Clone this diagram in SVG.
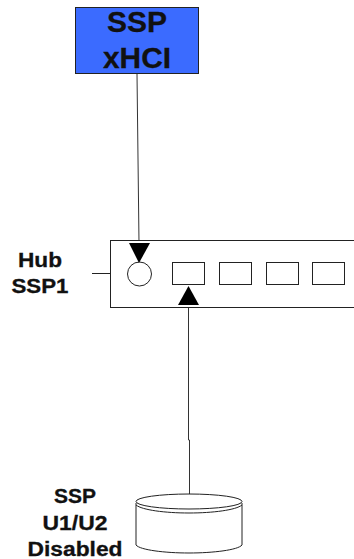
<svg xmlns="http://www.w3.org/2000/svg" width="354" height="559" viewBox="0 0 354 559">
<style>
.l{fill:none;stroke:#222;stroke-width:1}
.b{fill:#fff;stroke:#222;stroke-width:1}
.t{font-family:"Liberation Sans",Arial,sans-serif;font-weight:bold;fill:#111;stroke:#111;stroke-width:.3;text-anchor:middle}
.s{font-size:20px}
.x{font-size:29px}
.c{fill:none;stroke:#333;stroke-width:1}
</style>
<rect width="354" height="559" fill="#fff"/>
<g id="connectors">
<path class="c" d="M137 74L139 243"/>
<path class="c" d="M188.500 303V440H189.500V494"/>
<path class="l" d="M92 273.500H110"/>
</g>
<g id="xhci">
<rect x="75.500" y="7.500" width="123" height="66" fill="#3b6bff" stroke="#222"/>
<text class="t x" x="137" y="32" textLength="60" lengthAdjust="spacingAndGlyphs">SSP</text>
<text class="t x" x="137" y="68" textLength="68" lengthAdjust="spacingAndGlyphs">xHCI</text>
</g>
<g id="hub">
<rect class="b" x="110.500" y="240.500" width="250" height="67"/>
<circle class="b" cx="139.500" cy="274" r="12"/>
<rect class="b" x="172.500" y="262.500" width="32" height="22"/>
<rect class="b" x="219.500" y="262.500" width="32" height="22"/>
<rect class="b" x="266.500" y="262.500" width="32" height="22"/>
<rect class="b" x="312.500" y="262.500" width="32" height="22"/>
<text class="t s" x="40" y="267" textLength="44" lengthAdjust="spacingAndGlyphs">Hub</text>
<text class="t s" x="40" y="293" textLength="57" lengthAdjust="spacingAndGlyphs">SSP1</text>
</g>
<g id="arrowheads">
<polygon points="129,243 150,243 139,263" fill="#000"/>
<polygon points="178,305 199,305 188.500,286" fill="#000"/>
</g>
<g id="disk">
<path class="b" d="M136 503V545C140 550 165 553 189 553C213 553 238 550 242 545V503"/>
<ellipse class="b" cx="189" cy="501.500" rx="53" ry="7.500"/>
<path class="l" d="M136 505C142 510 165 513 189 513C213 513 236 510 242 505"/>
<text class="t s" x="75" y="503" textLength="42" lengthAdjust="spacingAndGlyphs">SSP</text>
<text class="t s" x="75" y="530" textLength="65" lengthAdjust="spacingAndGlyphs">U1/U2</text>
<text class="t s" x="75" y="556" textLength="95" lengthAdjust="spacingAndGlyphs">Disabled</text>
</g>
</svg>
